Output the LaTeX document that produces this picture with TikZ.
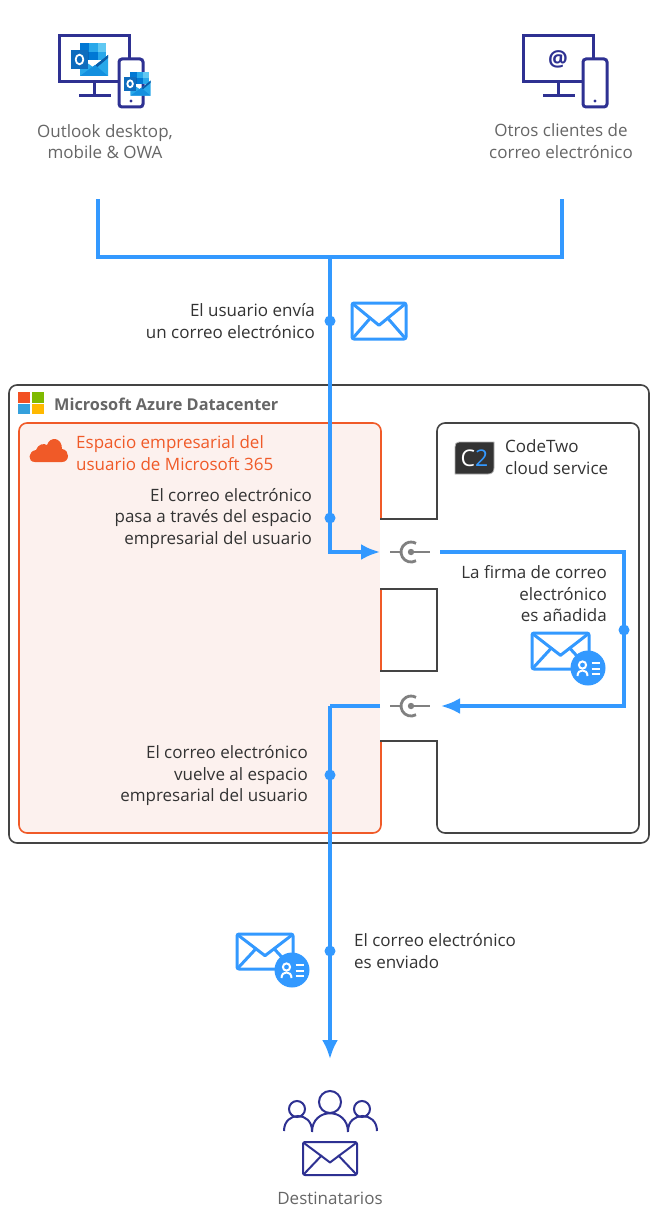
\documentclass[tikz,border=0pt]{standalone}
\usepackage{fontspec}
\setmainfont{Open Sans}
\usetikzlibrary{arrows.meta, calc}
\definecolor{flowblue}{HTML}{3399FF}
\definecolor{navyline}{HTML}{2E3192}
\definecolor{tenantorange}{HTML}{F05A28}
\definecolor{tenantbg}{HTML}{FCF1EE}
\definecolor{frameline}{HTML}{444444}
\definecolor{darktxt}{HTML}{333333}
\definecolor{graytxt}{HTML}{666666}
\definecolor{plugline}{HTML}{808080}
\definecolor{olkdeep}{HTML}{0364B8}
\definecolor{olkmid}{HTML}{0078D4}
\definecolor{olksky}{HTML}{28A8EA}
\definecolor{olkpale}{HTML}{60C8F2}
\definecolor{olkflap}{HTML}{0A5CA8}
\definecolor{olkfront}{HTML}{1490DF}
\definecolor{olkbox}{HTML}{0F6CBD}
\definecolor{msred}{HTML}{F25022}
\definecolor{msgreen}{HTML}{7FBA00}
\definecolor{msblue}{HTML}{35A0DC}
\definecolor{msyellow}{HTML}{FFB900}
\tikzset{
  pics/envelope/.style n args={4}{code={
    \draw[#3, line join=round, rounded corners=2pt, line width=#4] (0,0) rectangle (#1,#2);
    \draw[#3, line join=round, line width=#4] (1,1) -- (#1/2,#2*0.62) -- (#1-1,1);
    \draw[#3, line width=#4] (1,#2-1) -- (#1*0.35,#2*0.4);
    \draw[#3, line width=#4] (#1-1,#2-1) -- (#1*0.65,#2*0.4);
  }},
  pics/badge/.style={code={
    \fill[flowblue] (0,0) circle (17.5);
    \draw[white, line width=2pt] (-5.5,-3) circle (3.6);
    \draw[white, line width=2pt] (-10.5,8) .. controls (-10.5,0.5) and (-0.5,0.5) .. (-0.5,8);
    \draw[white, line width=2pt] (3.5,-5.5) -- (12,-5.5) (3.5,0.5) -- (12,0.5) (3.5,6) -- (12,6);
  }},
  pics/screen/.style={code={
    \draw[navyline, line width=3pt] (0,0) rectangle (70,46);
    \draw[navyline, line width=3pt] (35,46) -- (35,60);
    \draw[navyline, line width=3pt] (20,60) -- (52,60);
    \draw[navyline, line width=3pt, fill=white, rounded corners=3pt] (60,23) rectangle (84,71);
    \fill[navyline] (72,65) circle (1.6);
  }},
  pics/outlookmark/.style={code={
    \fill[olkmid] (9,-7) rectangle (18,2);
    \fill[olksky] (18,-7) rectangle (27,2);
    \fill[olkpale] (27,-7) rectangle (35,2);
    \fill[olkdeep] (9,2) rectangle (18,10);
    \fill[olkmid] (18,2) rectangle (27,10);
    \fill[olksky] (27,2) rectangle (35,10);
    \fill[olksky] (9,8) -- (22,17) -- (37,5) -- (37,26) -- (9,26) -- cycle;
    \fill[olkflap] (22,17) -- (37,5) -- (37,8) -- (24,19) -- cycle;
    \fill[olkfront] (9,26) -- (24,15) -- (37,26) -- cycle;
    \fill[olkbox] (0,0) rectangle (17,19);
    \draw[white, line width=1.8pt] (8.5,9.5) ellipse (3.8 and 4.8);
  }},
}
\begin{document}
\begin{tikzpicture}[x=1pt, y=-1pt, font=\fontsize{17}{21.5}\selectfont]
\tikzstyle{flow}=[draw=flowblue, line width=3.5pt]
\tikzstyle{flowtip}=[flow, -{Latex[length=19pt, width=16pt]}]
\tikzstyle{dot}=[circle, fill=flowblue, inner sep=0pt, minimum size=11pt]
\tikzstyle{rtxt}=[anchor=east, align=right, text=darktxt, inner sep=0pt]
\tikzstyle{ltxt}=[anchor=west, align=left, text=darktxt, inner sep=0pt]
\tikzstyle{ctxt}=[align=center, text=graytxt, inner sep=0pt]
\tikzstyle{plug}=[draw=plugline, line width=2.8pt]
\tikzstyle{frame}=[frameline, line width=1.6pt]

\path[fill=white] (0,0) rectangle (660,1220);
\useasboundingbox (0,0) rectangle (660,1220);

% datacenter frames
\draw[frame, rounded corners=8pt] (9,385) rectangle (649,843);
\draw[tenantorange, fill=tenantbg, line width=1.6pt, rounded corners=8pt] (19,423) rectangle (381,833);
\fill[white] (380,520) rectangle (436,588);
\fill[white] (380,672) rectangle (436,740);
\draw[frame] (380,519) -- (437,519) -- (437,500) [rounded corners=8pt] -- (437,423) -- (639,423) -- (639,833) -- (437,833) -- (437,800) [sharp corners] -- (437,741) -- (380,741);
\draw[frame] (380,589) -| (437,671) -- (380,671);

% logos
\fill[msred] (18,392) rectangle (30,402.5);
\fill[msgreen] (31.5,392) rectangle (44,402.5);
\fill[msblue] (18,404) rectangle (30,414);
\fill[msyellow] (31.5,404) rectangle (44,414);
\fill[tenantorange] (35,462) .. controls (27,462) and (28,451) .. (36,450) .. controls (38,444) and (44,443) .. (47,445) .. controls (50,436) and (62,437) .. (62,449) .. controls (70,450) and (70,462) .. (62,462) -- cycle;
\draw[gray!60, fill=darktxt, line width=0.8pt] (459,442) -- (494,442) -- (494,468) .. controls (494,472) and (492,474) .. (488,474) -- (455,474) -- (455,447) .. controls (455,444) and (456,442) .. (459,442) -- cycle;
\node[inner sep=0pt, font=\fontsize{23}{23}\selectfont] (logotwo) at (474.5,458) {\textcolor{white}{C}\textcolor{flowblue}{2}};

% connectors
\coordinate (clientA) at (98,199);
\coordinate (clientB) at (562,199);
\coordinate (joinbar) at (330,257);
\coordinate (plugAin) at (380,552);
\coordinate (plugAout) at (440,552);
\coordinate (turnA) at (624,552);
\coordinate (turnB) at (624,706);
\coordinate (plugBin) at (441,706);
\coordinate (plugBout) at (380,706);
\coordinate (backturn) at (330,706);
\coordinate (inbox) at (330,1059);
\draw[flow] (clientA) |- (joinbar) -| (clientB);
\draw[flowtip] (joinbar) |- (plugAin);
\draw[flowtip] (plugAout) -- (turnA) -- (turnB) -- (plugBin);
\draw[flow] (plugBout) -- (backturn);
\draw[flowtip] (backturn) -- (inbox);

\node[dot] (dotA) at (330,321) {};
\node[dot] (dotB) at (330,518) {};
\node[dot] (dotC) at (624,630) {};
\node[dot] (dotD) at (330,775) {};
\node[dot] (dotE) at (330,951) {};

% plugs
\foreach \py in {552,706}{
  \draw[plug] (390,\py) -- (401,\py);
  \draw[plug] (416,\py+8.7) arc[start angle=60, end angle=300, radius=10];
  \draw[plug] (411,\py) -- (430,\py);
  \fill[plugline] (411,\py) circle (3.2);
}

% icons
\pic at (59,36) {screen};
\pic at (71,50) {outlookmark};
\pic[scale=0.72] at (124,77) {outlookmark};
\pic at (523,36) {screen};
\node[inner sep=0pt, text=navyline, font=\fontsize{22}{22}\selectfont\bfseries] (atsign) at (558,59) {@};
\pic at (352,303) {envelope={54}{36}{flowblue}{3pt}};
\pic at (532,633) {envelope={57}{36}{flowblue}{3pt}};
\pic at (588,668) {badge};
\pic at (237,934) {envelope={56}{35}{flowblue}{3pt}};
\pic at (292,970) {badge};
\pic at (303,1142) {envelope={54}{33}{navyline}{2pt}};
\draw[navyline, line width=2pt] (330,1102) circle (11);
\draw[navyline, line width=2pt] (297,1109) circle (8);
\draw[navyline, line width=2pt] (362,1109) circle (8);
\draw[navyline, line width=2pt] (312,1132) .. controls (312,1107) and (348,1107) .. (348,1132);
\draw[navyline, line width=2pt] (284,1131) .. controls (284,1111) and (312,1111) .. (312,1131);
\draw[navyline, line width=2pt] (348,1131) .. controls (348,1111) and (377,1111) .. (377,1131);

% labels
\node[ctxt] (outlooktxt) at (105,141.5) {Outlook desktop,\\mobile \& OWA};
\node[ctxt] (othertxt) at (561,141) {Otros clientes de\\correo electrónico};
\node[rtxt] (sendtxt) at (315,321) {El usuario envía\\un correo electrónico};
\node[anchor=west, inner sep=0pt, text=graytxt, font=\fontsize{16.3}{21.5}\selectfont\bfseries] (azuretxt) at (54,404) {Microsoft Azure Datacenter};
\node[ltxt, text=tenantorange] (tenanttxt) at (76,453) {Espacio empresarial del\\usuario de Microsoft 365};
\node[rtxt] (passtxt) at (312,518.5) {El correo electrónico\\pasa a través del espacio\\empresarial del usuario};
\node[ltxt] (codetwotxt) at (505,457) {CodeTwo\\cloud service};
\node[rtxt] (signtxt) at (607,594) {La firma de correo\\electrónico\\es añadida};
\node[rtxt] (backtxt) at (308,776) {El correo electrónico\\vuelve al espacio\\empresarial del usuario};
\node[ltxt] (senttxt) at (354,951) {El correo electrónico\\es enviado};
\node[ctxt] (rcpttxt) at (330,1198) {Destinatarios};
\end{tikzpicture}
\end{document}
